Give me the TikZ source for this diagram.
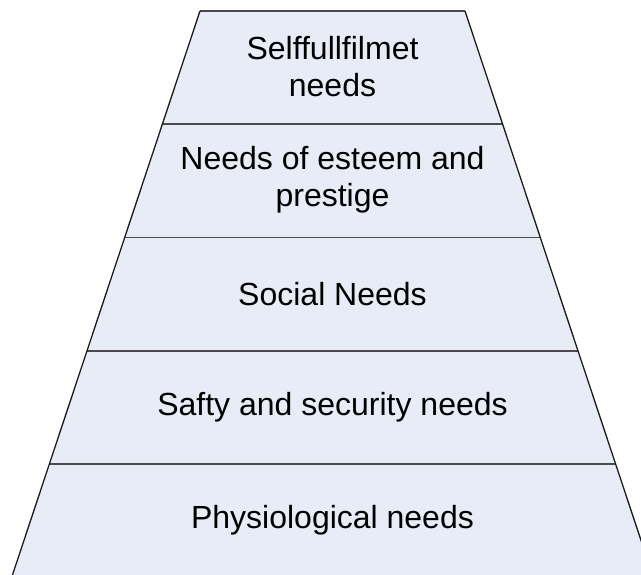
\documentclass[tikz,border=0pt]{standalone}
\usepackage{fontspec}
\setmainfont{Liberation Sans}
\usetikzlibrary{calc}
\definecolor{tierfill}{HTML}{E7ECF7}
\definecolor{edge}{HTML}{1C1C1C}
\definecolor{rule}{HTML}{4A4A4A}
\tikzset{
  tier/.style={font=\fontsize{32}{37}\selectfont,align=center,text=black,inner sep=0pt},
  side/.style={draw=edge,line width=1.3pt},
  divider/.style={draw=rule,line width=1.8pt},
}
\begin{document}
\begin{tikzpicture}[x=1pt,y=-1pt]
\useasboundingbox (0,0) rectangle (641,574);
\clip (0,0) rectangle (641,574);

% pyramid outline, bottom runs past the page edge
\coordinate (tl) at (200,11);
\coordinate (tr) at (465,11);
\coordinate (bl) at (11.8,577);
\coordinate (br) at (653.2,577);
\fill[tierfill] (tl) -- (tr) -- (br) -- (bl) -- cycle;

% tier dividers
\foreach \f [count=\i] in {0.2,0.4,0.6,0.8}
  \draw[divider] ($(tl)!\f!(bl)$) -- ($(tr)!\f!(br)$);

\draw[divider] (tl) -- (tr);
\draw[side] (tl) -- (bl);
\draw[side] (tr) -- (br);

% labels, top to bottom
\node[tier] (self)   at (332.5,67)  {Selffullfilmet\\needs};
\node[tier] (esteem) at (332.5,180) {Needs of esteem and\\prestige};
\node[tier] (social) at (332.5,294) {Social Needs};
\node[tier] (safety) at (332.5,407) {Safty and security needs};
\node[tier] (physio) at (332.5,520) {Physiological needs};

\end{tikzpicture}
\end{document}
